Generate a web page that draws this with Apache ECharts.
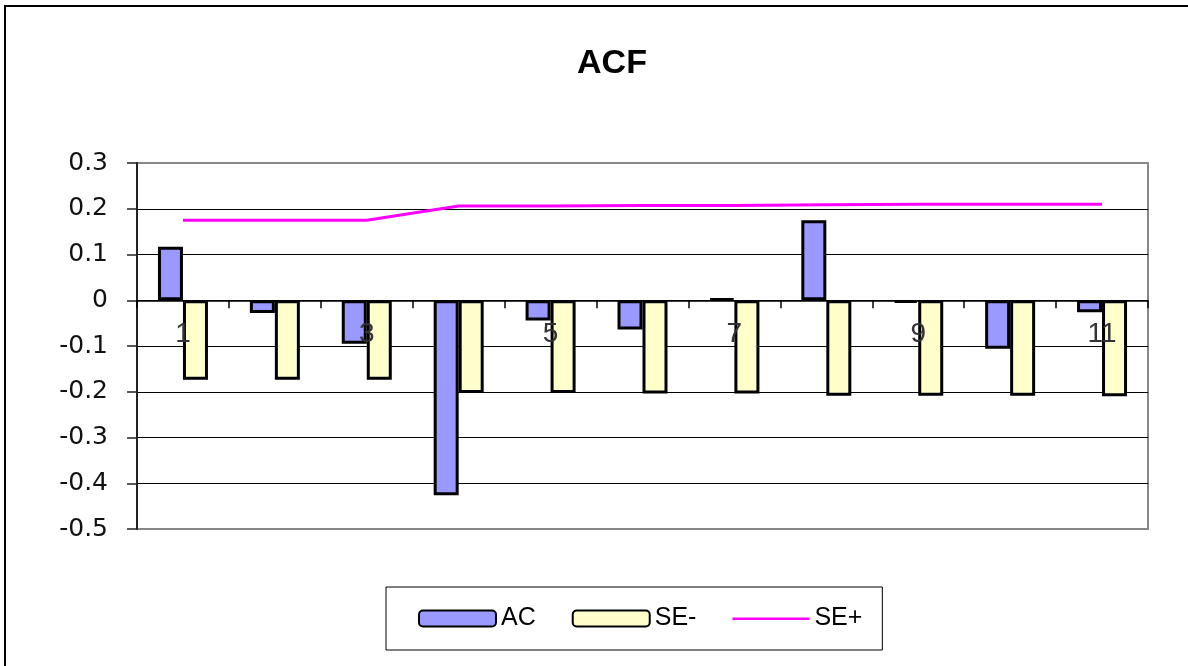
<!DOCTYPE html>
<html>
<head>
<meta charset="utf-8">
<script src="https://cdn.jsdelivr.net/npm/echarts@6/dist/echarts.min.js"></script>
<style>
  html, body { margin: 0; padding: 0; background: #fff; }
  #main { width: 1188px; height: 666px; }
</style>
</head>
<body>
<div id="main"></div>
<script>
var lags = ['1', '2', '3', '4', '5', '6', '7', '8', '9', '10', '11'];
var ac_values = [0.117, -0.028, -0.095, -0.426, -0.044, -0.064, 0.003, 0.175, -0.006, -0.106, -0.026];
var se_minus = [-0.174, -0.174, -0.174, -0.203, -0.203, -0.204, -0.204, -0.209, -0.209, -0.209, -0.21];
var se_plus = [0.175, 0.175, 0.175, 0.206, 0.206, 0.207, 0.207, 0.209, 0.21, 0.21, 0.21];
var y_ticks = [-0.5, -0.4, -0.3, -0.2, -0.1, 0, 0.1, 0.2, 0.3];

var gridTop = 163;
var gridBottom = 137;
var yMin = -0.5;
var yMax = 0.3;

var myChart = echarts.init(document.getElementById('main'));

// grid edges grey, inner lines black
var splitColors = y_ticks.map(function (v, i) {
    return (i == 0 || i == y_ticks.length - 1) ? '#888' : '#000';
});

// put the category axis on the zero line
var gridH = 666 - gridTop - gridBottom;
var zeroOffset = -gridH * (0 - yMin) / (yMax - yMin);

// plain line icon for SE+ (corner dots keep the 77x16 box)
var lineIcon = 'path://M0,7L77,7L77,9.5L0,9.5Z M0,0L0.01,0L0,0.01Z M77,16L76.99,16L77,15.99Z';

var option = {
    backgroundColor: '#fff',
    animation: false,
    title: {
        text: 'ACF',
        left: 607,
        top: 42,
        textAlign: 'center',
        textStyle: {
            fontFamily: 'Liberation Sans, Arial',
            fontWeight: 'bold',
            fontSize: 34,
            color: '#000'
        }
    },
    graphic: [
        {
            type: 'rect',
            shape: { x: 5, y: 6, width: 1300, height: 800 },
            style: { fill: 'none', stroke: '#000', lineWidth: 2 },
            silent: true
        }
    ],
    legend: {
        left: 386,
        top: 587,
        padding: [19, 20, 19, 32],
        itemGap: 36,
        itemWidth: 77,
        itemHeight: 16,
        borderColor: '#000',
        borderWidth: 1,
        textStyle: {
            fontFamily: 'Liberation Sans, Arial',
            fontSize: 25,
            color: '#000'
        },
        data: [
            { name: 'AC' },
            { name: 'SE-' },
            { name: 'SE+', icon: lineIcon, itemStyle: { color: '#FF00FF', borderWidth: 0 } }
        ]
    },
    grid: {
        left: 137,
        right: 40,
        top: gridTop,
        bottom: gridBottom,
        show: true,
        borderColor: '#888',
        borderWidth: 2
    },
    xAxis: {
        type: 'category',
        data: lags,
        z: 3,
        offset: zeroOffset,
        axisLine: {
            onZero: false,
            lineStyle: { color: '#000', width: 1.5 }
        },
        axisTick: {
            show: true,
            interval: 0,
            length: 8,
            lineStyle: { color: '#000', width: 1.5 }
        },
        axisLabel: {
            interval: 1,
            margin: 20,
            fontFamily: 'Liberation Sans, Arial',
            fontSize: 28,
            color: '#333'
        }
    },
    yAxis: {
        type: 'value',
        min: yMin,
        max: yMax,
        interval: 0.1,
        axisLine: {
            show: true,
            lineStyle: { color: '#222', width: 2 }
        },
        axisTick: {
            show: true,
            length: 10,
            lineStyle: { color: '#222', width: 1.5 }
        },
        axisLabel: {
            margin: 29,
            fontFamily: 'DejaVu Sans',
            fontSize: 25,
            color: '#111',
            formatter: function (v) {
                return String(Math.round(v * 10) / 10);
            }
        },
        splitLine: {
            show: true,
            lineStyle: { color: splitColors, width: 1.2 }
        }
    },
    series: [
        {
            type: 'bar',
            name: 'AC',
            barWidth: 25,
            barGap: '0%',
            itemStyle: {
                color: '#9999FF',
                borderColor: '#000',
                borderWidth: 3
            },
            data: ac_values
        },
        {
            type: 'bar',
            name: 'SE-',
            barWidth: 25,
            barGap: '0%',
            itemStyle: {
                color: '#FFFFCC',
                borderColor: '#000',
                borderWidth: 3
            },
            data: se_minus
        },
        {
            type: 'line',
            name: 'SE+',
            symbol: 'none',
            lineStyle: { color: '#FF00FF', width: 3 },
            itemStyle: { color: '#FF00FF' },
            data: se_plus
        }
    ]
};
myChart.setOption(option);
</script>
</body>
</html>
